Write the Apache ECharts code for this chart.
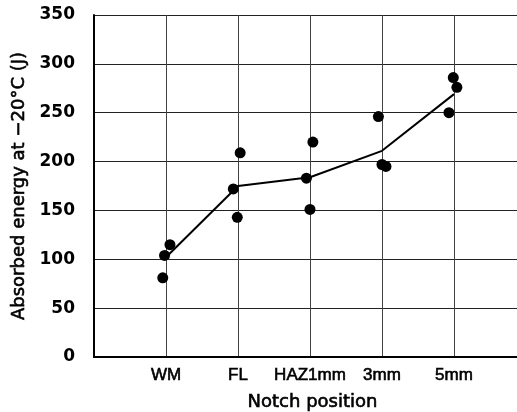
<!DOCTYPE html>
<html>
<head>
<meta charset="utf-8">
<script src="https://cdn.jsdelivr.net/npm/echarts@6/dist/echarts.min.js"></script>
<style>html,body{margin:0;padding:0;background:#fff}#c{width:517px;height:412px}</style>
</head>
<body>
<div id="c"></div>
<script>
// Data
var categories = ['WM', 'FL', 'HAZ1mm', '3mm', '5mm'];
var measured = [
  [115, 104, 81],
  [209, 172, 143],
  [220, 183, 151],
  [246, 197, 195],
  [286, 276, 250]
];
// small horizontal offsets (in category units) of the individual specimens
var jitter = [
  [0.055, -0.02, -0.045],
  [0.03, -0.065, -0.01],
  [0.04, -0.05, 0.0],
  [-0.05, 0.0, 0.055],
  [-0.01, 0.04, -0.07]
];
var averageLine = [102, 175, 184, 211, 269];
var yTicks = [0, 50, 100, 150, 200, 250, 300, 350];

var scatterData = [];
measured.forEach(function (vals, i) {
  vals.forEach(function (v, j) { scatterData.push([i + 1 + jitter[i][j], v]); });
});
var lineData = averageLine.map(function (v, i) { return [i + 1, v]; });

var chart = echarts.init(document.getElementById('c'), null, {renderer: 'canvas'});
chart.setOption({
  animation: false,
  backgroundColor: '#fff',
  grid: {left: 94, right: 0, top: 15, bottom: 55, containLabel: false, outerBoundsMode: 'none'},
  xAxis: [{
    type: 'value', min: 0, max: 5.875, interval: 1,
    axisLine: {show: true, onZero: false, lineStyle: {color: '#000', width: 2}},
    axisTick: {show: false},
    splitLine: {show: true, lineStyle: {color: '#444', width: 1}},
    axisLabel: {
      margin: 10, color: '#000', fontFamily: 'Liberation Sans', fontSize: 17,
      textBorderColor: '#000', textBorderWidth: 0.6,
      formatter: function (v) { var k = Math.round(v); return (k >= 1 && k <= categories.length && Math.abs(v - k) < 1e-6) ? categories[k - 1] : ''; }
    },
    name: 'Notch position', nameLocation: 'middle', nameGap: 36,
    nameTextStyle: {color: '#000', fontFamily: 'DejaVu Sans', fontSize: 18, padding: [0, 0, 0, 14],
      textBorderColor: '#000', textBorderWidth: 0.6}
  }, {
    type: 'value', position: 'top', min: 0, max: 5.875,
    axisLine: {show: true, lineStyle: {color: '#000', width: 2}},
    axisTick: {show: false}, axisLabel: {show: false}, splitLine: {show: false}
  }],
  yAxis: {
    type: 'value', min: yTicks[0], max: yTicks[yTicks.length - 1], interval: 50,
    axisLine: {show: true, lineStyle: {color: '#000', width: 2}},
    axisTick: {show: false},
    splitLine: {show: true, lineStyle: {color: '#222', width: 1}},
    axisLabel: {margin: 19, color: '#000', fontFamily: 'DejaVu Sans', fontWeight: 'bold', fontSize: 17},
    name: 'Absorbed energy at \u221220\u00b0C (J)', nameLocation: 'middle', nameGap: 64,
    nameTextStyle: {color: '#000', fontFamily: 'DejaVu Sans', fontSize: 18,
      textBorderColor: '#000', textBorderWidth: 0.6}
  },
  series: [{
    type: 'line', data: lineData, symbol: 'none',
    lineStyle: {color: '#000', width: 2}, z: 3
  }, {
    type: 'scatter', data: scatterData, symbol: 'circle', symbolSize: 11,
    itemStyle: {color: '#000', opacity: 1}, z: 4
  }]
});
</script>
</body>
</html>
